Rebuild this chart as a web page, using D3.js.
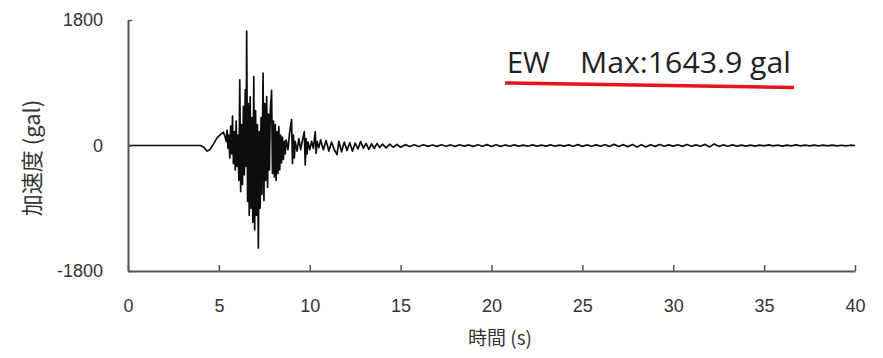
<!DOCTYPE html>
<html>
<head>
<meta charset="utf-8">
<script src="https://cdn.jsdelivr.net/npm/d3@7"></script>
<style>
  html, body { margin: 0; padding: 0; background: #fff; }
  svg { display: block; }
</style>
</head>
<body>
<div id="chart"></div>
<script>
// time (s) / acceleration (gal) pairs
const preEvent = [
  [0, 0], [4.0, 0], [4.15, -20], [4.35, -80], [4.5, -60], [4.7, 20], [4.9, 110],
  [5.1, 160], [5.25, 190], [5.35, 120]
];

const mainShock = [
  [5.4, 60], [5.45, 220], [5.5, -40], [5.55, 150], [5.6, -180], [5.65, 280],
  [5.7, -120], [5.75, 420], [5.8, -260], [5.85, 200], [5.9, -350], [5.95, 350],
  [6.0, -300], [6.05, 150], [6.1, -500], [6.15, 940], [6.2, -660], [6.25, 300],
  [6.3, -560], [6.35, 560], [6.4, -420], [6.45, 800], [6.5, -300], [6.53, 1640],
  [6.58, -800], [6.62, 600], [6.67, -1000], [6.72, 700], [6.77, -900], [6.82, 400],
  [6.87, -1100], [6.92, 990], [6.97, -1210], [7.02, 500], [7.07, -1000], [7.12, 300],
  [7.17, -1470], [7.22, 200], [7.27, -900], [7.32, 400], [7.37, -700], [7.43, 1040],
  [7.48, -790], [7.53, 600], [7.58, -500], [7.63, 700], [7.68, -600], [7.73, 450],
  [7.78, -350], [7.83, 500], [7.9, 790], [7.95, -400], [8.0, 350], [8.05, -450],
  [8.1, 300], [8.15, -500], [8.2, 200], [8.25, -400], [8.3, 270], [8.35, -350],
  [8.4, 150], [8.45, -250], [8.5, 120], [8.55, -200], [8.6, 60], [8.65, -120],
  [8.7, 80], [8.8, -60], [8.9, 200], [9.0, 370], [9.05, -260], [9.1, 150],
  [9.15, -180], [9.2, 60], [9.3, -80], [9.4, 100], [9.5, -60], [9.6, 80],
  [9.7, 200], [9.75, -280], [9.8, 100], [9.85, -120], [9.9, 50], [10.0, -60],
  [10.1, 60], [10.2, -40], [10.3, 200], [10.35, -115], [10.4, 60], [10.5, -30]
];

const coda = [
  [10.6, 80], [10.75, -60], [10.9, 70], [11.05, -80], [11.2, 50], [11.35, -60],
  [11.5, -130], [11.6, 60], [11.75, -90], [11.9, 50], [12.05, -70], [12.2, 40],
  [12.35, -80], [12.5, 35], [12.65, -50], [12.8, 55], [12.95, -40], [13.1, 30],
  [13.25, -55], [13.4, 25], [13.55, -40], [13.7, 30], [13.85, -30], [14.0, 20],
  [14.2, -35], [14.4, 20], [14.6, -25], [14.8, 15], [15.0, -25], [15.25, 12],
  [15.5, -14], [15.75, 10], [16.0, -15], [16.25, 10], [16.5, -12], [16.75, 8],
  [17.0, -12], [17.25, 10], [17.5, -10], [17.75, 8], [18.0, -12], [18.25, 10],
  [18.5, -8], [18.75, 8], [19.0, -12], [19.25, 10], [19.5, -10], [19.75, 12],
  [20.0, -14], [20.25, 10], [20.5, -12], [20.75, 8], [21.0, -10], [21.25, 8],
  [21.5, -8], [21.75, 6], [22.0, -10], [22.25, 8], [22.5, -8], [22.75, 6],
  [23.0, -8], [23.25, 8], [23.5, -10], [23.75, 6], [24.0, -8], [24.25, 8],
  [24.5, -10], [24.75, 12], [25.0, -12], [25.25, 8], [25.5, -10], [25.75, 8],
  [26.0, -8], [26.25, 10], [26.5, -12], [26.75, 16], [27.0, -14], [27.25, 12],
  [27.5, -16], [27.75, 14], [28.0, -22], [28.25, 12], [28.5, -20], [28.75, 10],
  [29.0, -12], [29.25, 14], [29.5, -10], [29.75, 8], [30.0, -8], [30.25, 10],
  [30.5, -12], [30.75, 14], [31.0, -10], [31.25, 8], [31.5, -10], [31.75, 16],
  [32.0, -20], [32.25, 22], [32.5, -12], [32.75, 8], [33.0, -10], [33.25, 8],
  [33.5, -8], [33.75, 6], [34.0, -8], [34.25, 6], [34.5, -8], [34.75, 6],
  [35.0, -6], [35.25, 8], [35.5, -6], [35.75, 6], [36.0, -8], [36.25, 6],
  [36.5, -6], [36.75, 8], [37.0, -6], [37.25, 6], [37.5, -6], [37.75, 6],
  [38.0, -6], [38.25, 6], [38.5, -6], [38.75, 6], [39.0, -6], [39.25, 4],
  [39.5, -6], [39.75, 4], [40.0, 0]
];

const xTicks = [0, 5, 10, 15, 20, 25, 30, 35, 40];
const yTicks = [-1800, 0, 1800];
const xTitle = '時間 (s)';
const yTitle = '加速度 (gal)';
const component = 'EW';
const maxLabel = 'Max:1643.9 gal';

const width = 883, height = 358;
const margin = { top: 20, right: 28, bottom: 87, left: 128 };

const svg = d3.select('#chart').append('svg')
  .attr('width', width)
  .attr('height', height);

// soft edge, like the scanned original
svg.append('defs').append('filter')
  .attr('id', 'soft')
  .append('feGaussianBlur')
  .attr('stdDeviation', 0.55);

const x = d3.scaleLinear().domain([0, 40]).range([margin.left, width - margin.right]);
const y = d3.scaleLinear().domain([-1800, 1800]).range([height - margin.bottom, margin.top]);

const axisColor = '#555';
const labelFont = '"Liberation Sans", Arial, sans-serif';

// waveform
const record = preEvent.concat(mainShock, coda);
const line = d3.line().x(d => x(d[0])).y(d => y(d[1]));

svg.append('path')
  .datum(record)
  .attr('d', line)
  .attr('fill', 'none')
  .attr('stroke', '#111')
  .attr('stroke-width', 1.7)
  .attr('stroke-linejoin', 'round')
  .attr('filter', 'url(#soft)');

// axes
const xAxis = svg.append('g')
  .attr('transform', `translate(0,${y(-1800)})`)
  .call(d3.axisBottom(x).tickValues(xTicks).tickSizeInner(-6).tickSizeOuter(0).tickPadding(28));

const yAxis = svg.append('g')
  .attr('transform', `translate(${x(0)},0)`)
  .call(d3.axisLeft(y).tickValues(yTicks).tickSizeInner(-4).tickSizeOuter(0).tickPadding(25)
    .tickFormat(d => d < 0 ? '-' + Math.abs(d) : d));

[xAxis, yAxis].forEach(g => {
  g.select('.domain').attr('stroke', axisColor).attr('stroke-width', 2);
  g.selectAll('.tick line').attr('stroke', axisColor).attr('stroke-width', 1.5);
  g.selectAll('.tick text')
    .attr('fill', '#333')
    .style('font-family', labelFont)
    .style('font-size', '18px');
});

// axis titles
svg.append('text')
  .attr('x', 500)
  .attr('y', 345)
  .attr('text-anchor', 'middle')
  .attr('fill', '#333')
  .style('font-family', '"Noto Sans CJK JP", sans-serif')
  .style('font-size', '19px')
  .text(xTitle);

svg.append('text')
  .attr('transform', 'translate(40,158) rotate(-90)')
  .attr('text-anchor', 'middle')
  .attr('fill', '#333')
  .style('font-family', '"Noto Sans CJK JP", sans-serif')
  .style('font-size', '22px')
  .text(yTitle);

// annotation
const noteFont = '"Open Sans", "Liberation Sans", sans-serif';
svg.append('text')
  .attr('x', 507)
  .attr('y', 73)
  .attr('fill', '#222')
  .style('font-family', noteFont)
  .style('font-size', '29px')
  .text(component);

svg.append('text')
  .attr('x', 580)
  .attr('y', 73)
  .attr('fill', '#222')
  .attr('textLength', 211)
  .attr('lengthAdjust', 'spacingAndGlyphs')
  .style('font-family', noteFont)
  .style('font-size', '29px')
  .text(maxLabel);

svg.append('line')
  .attr('x1', 505).attr('y1', 83)
  .attr('x2', 794).attr('y2', 87.5)
  .attr('stroke', '#e8131b')
  .attr('stroke-width', 3.5);
</script>
</body>
</html>
